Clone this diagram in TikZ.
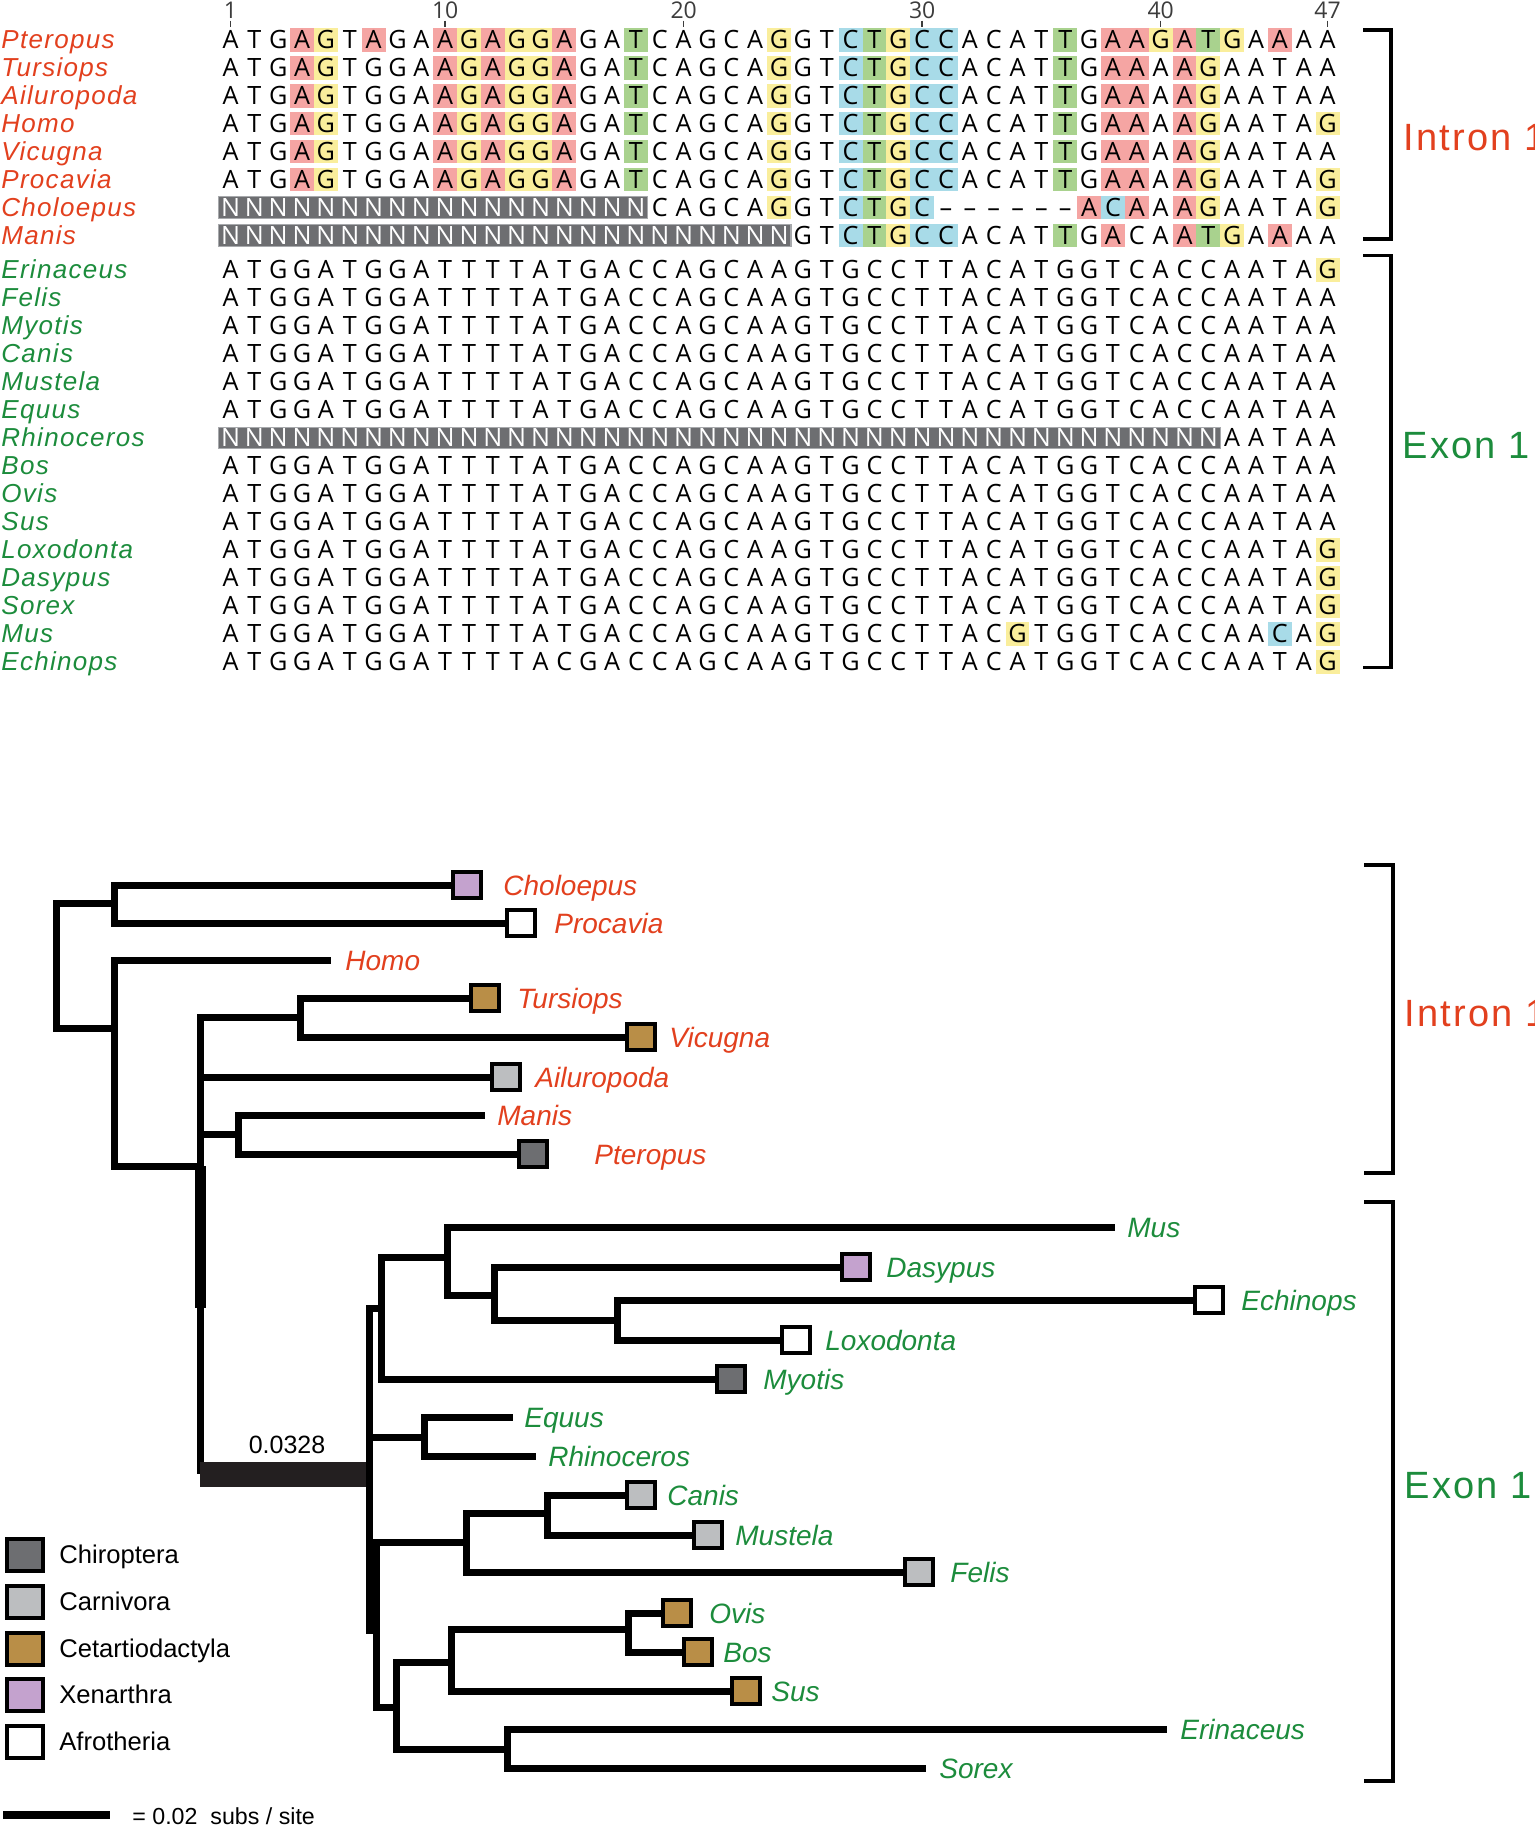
\documentclass[tikz,border=0pt]{standalone}
\usepackage{fontspec}
\setmainfont{Liberation Sans}
\newfontfamily\seqfont{Open Sans}
\newfontfamily\labfont[LetterSpace=5]{Liberation Sans}
\newfontfamily\partfont[LetterSpace=6]{Liberation Sans}

\definecolor{intronred}{HTML}{E2401E}
\definecolor{exongreen}{HTML}{1C8C3C}
\definecolor{hlP}{HTML}{F5A5A3}
\definecolor{hlY}{HTML}{FAEE9C}
\definecolor{hlG}{HTML}{A9D28E}
\definecolor{hlB}{HTML}{A8DBE8}
\definecolor{ngray}{HTML}{6D6E71}
\definecolor{nedge}{HTML}{A7A9AC}
\definecolor{chiro}{HTML}{6D6E71}
\definecolor{carni}{HTML}{BCBEC0}
\definecolor{cetart}{HTML}{B98E47}
\definecolor{xenar}{HTML}{C4A2CE}
\definecolor{afro}{HTML}{FFFFFF}
\definecolor{numgray}{HTML}{3C3C3C}
\definecolor{bandblack}{HTML}{231F20}

\newcount\alcol
\def\hlwalk#1{\ifx#1\relax\else
  \global\advance\alcol by 1
  \ifx#1.\else
    \fill[hl#1] ({194.725+23.85*\the\alcol},\aly-11.7) rectangle ({218.575+23.85*\the\alcol},\aly+11.7);
  \fi
  \expandafter\hlwalk\fi}
\def\chwalk#1{\ifx#1\relax\else
  \global\advance\alcol by 1
  \ifx N#1\def\chcol{white}\else\def\chcol{black}\fi
  \ifx -#1\def\chtxt{\textendash}\else\def\chtxt{#1}\fi
  \node[seqch,text=\chcol] (\alname-\the\alcol) at ({206.65+23.85*\the\alcol},\aly+8.8) {\chtxt};
  \expandafter\chwalk\fi}
\newcommand\alignrow[6]{%
  \def\aly{#1}\def\alname{#2}%
  \node[alabel,text=#3] (lab-#2) at (1,\aly+8.8) {#2};
  \ifnum#4>0 \draw[nblock] (218.575,\aly-10.8) rectangle ({218.575+23.85*#4},\aly+10.8);\fi
  \global\alcol=0 \expandafter\hlwalk#5\relax
  \global\alcol=0 \expandafter\chwalk#6\relax}

\def\exA{ATGGATGGAT TTTATGACCA GCAAGTGCCT TACATGGTCA CCAATAA}
\def\exG{ATGGATGGAT TTTATGACCA GCAAGTGCCT TACATGGTCA CCAATAG}
\def\lastG{.......... .......... .......... .......... ......Y}
\def\inA{ATGAGTGGAA GAGGAGATCA GCAGGTCTGC CACATTGAAA AGAATAA}
\def\inG{ATGAGTGGAA GAGGAGATCA GCAGGTCTGC CACATTGAAA AGAATAG}
\def\inAc{...PY....P YPYYP..G.. ...Y..BGYB B....G.PP. PY.....}
\def\inGc{...PY....P YPYYP..G.. ...Y..BGYB B....G.PP. PY....Y}

\begin{document}
\begin{tikzpicture}[x=0.5pt,y=-0.5pt,
  alabel/.style={anchor=base west,inner sep=0pt,font=\labfont\itshape\fontsize{13}{13}\selectfont},
  seqch/.style={anchor=base,inner sep=0pt,font=\seqfont\fontsize{12.6}{13}\selectfont},
  nblock/.style={fill=ngray,draw=nedge,line width=0.6pt},
  colnum/.style={anchor=base,inner sep=0pt,text=numgray,font=\seqfont\fontsize{11.5}{12}\selectfont},
  numtick/.style={draw=numgray,line width=0.8pt},
  bracket/.style={line width=1.8pt},
  partlab/.style={anchor=base west,inner sep=0pt,font=\partfont\fontsize{19}{19}\selectfont},
  branch/.style={line width=3.5pt},
  band/.style={line width=12.5pt,draw=bandblack},
  leafbox/.style={draw,line width=2pt,minimum width=14pt,minimum height=13pt,inner sep=0pt},
  tlabel/.style={anchor=base west,inner sep=0pt,yshift=-5pt,font=\itshape\fontsize{14}{14}\selectfont},
  legbox/.style={draw,line width=2pt,minimum width=18pt,minimum height=16pt,inner sep=0pt},
  leglab/.style={anchor=base west,inner sep=0pt,font=\fontsize{12.8}{13}\selectfont},
  numlab/.style={anchor=base,inner sep=0pt,font=\fontsize{12.5}{13}\selectfont},
  scalebar/.style={line width=4pt}]
\useasboundingbox (0,0) rectangle (1535,1826);

\foreach \c in {1,10,20,30,40,47}{
  \node[colnum] (num\c) at ({206.65+23.85*\c},18.3) {\c};
  \draw[numtick] ({206.65+23.85*\c},20.7) -- ({206.65+23.85*\c},26.5);
}

\alignrow{40}{Pteropus}{intronred}{0}{...PY.P..P YPYYP..G.. ...Y..BGYB B....G.PPY PGY.P..}{ATGAGTAGAA GAGGAGATCA GCAGGTCTGC CACATTGAAG ATGAAAA}
\alignrow{67.9}{Tursiops}{intronred}{0}{\inAc}{\inA}
\alignrow{95.8}{Ailuropoda}{intronred}{0}{\inAc}{\inA}
\alignrow{123.7}{Homo}{intronred}{0}{\inGc}{\inG}
\alignrow{151.6}{Vicugna}{intronred}{0}{\inAc}{\inA}
\alignrow{179.5}{Procavia}{intronred}{0}{\inGc}{\inG}
\alignrow{207.4}{Choloepus}{intronred}{18}{.......... .......... ...Y..BGYB ......PBP. PY....Y}{NNNNNNNNNN NNNNNNNNCA GCAGGTCTGC ------ACAA AGAATAG}
\alignrow{235.3}{Manis}{intronred}{24}{.......... .......... ......BGYB B....G.P.. PGY.P..}{NNNNNNNNNN NNNNNNNNNN NNNNGTCTGC CACATTGACA ATGAAAA}

\alignrow{270}{Erinaceus}{exongreen}{0}{\lastG}{\exG}
\alignrow{298}{Felis}{exongreen}{0}{}{\exA}
\alignrow{326}{Myotis}{exongreen}{0}{}{\exA}
\alignrow{354}{Canis}{exongreen}{0}{}{\exA}
\alignrow{382}{Mustela}{exongreen}{0}{}{\exA}
\alignrow{410}{Equus}{exongreen}{0}{}{\exA}
\alignrow{438}{Rhinoceros}{exongreen}{42}{}{NNNNNNNNNN NNNNNNNNNN NNNNNNNNNN NNNNNNNNNN NNAATAA}
\alignrow{466}{Bos}{exongreen}{0}{}{\exA}
\alignrow{494}{Ovis}{exongreen}{0}{}{\exA}
\alignrow{522}{Sus}{exongreen}{0}{}{\exA}
\alignrow{550}{Loxodonta}{exongreen}{0}{\lastG}{\exG}
\alignrow{578}{Dasypus}{exongreen}{0}{\lastG}{\exG}
\alignrow{606}{Sorex}{exongreen}{0}{\lastG}{\exG}
\alignrow{634}{Mus}{exongreen}{0}{.......... .......... .......... ...Y...... ....B.Y}{ATGGATGGAT TTTATGACCA GCAAGTGCCT TACGTGGTCA CCAACAG}
\alignrow{662}{Echinops}{exongreen}{0}{\lastG}{ATGGATGGAT TTTACGACCA GCAAGTGCCT TACATGGTCA CCAATAG}

\draw[bracket] (1363,30) -- (1391,30) -- (1391,239) -- (1363,239);
\draw[bracket] (1363,255.5) -- (1391,255.5) -- (1391,667.5) -- (1363,667.5);
\node[partlab,text=intronred] (intronA) at (1403,150.6) {Intron 1};
\node[partlab,text=exongreen] (exonA) at (1402,458.6) {Exon 1};

\coordinate (root) at (56,965);
\coordinate (nChPr) at (114,903);
\coordinate (nHomo) at (114,1028);
\coordinate (nBor) at (200,1166);
\coordinate (nTuVi) at (300,1017);
\coordinate (nMaPt) at (238,1134);
\coordinate (nEx) at (369,1474);
\coordinate (nMusMy) at (381,1308);
\coordinate (nMusDa) at (447,1257);
\coordinate (nDaEc) at (494,1295);
\coordinate (nEcLo) at (617,1320);
\coordinate (nEqRh) at (424,1437);
\coordinate (nLow) at (376,1630);
\coordinate (nCar) at (466,1542);
\coordinate (nCaMu) at (547,1513);
\coordinate (nLau) at (396,1707);
\coordinate (nCet) at (451,1662);
\coordinate (nOvBo) at (628,1629);
\coordinate (nErSo) at (507,1749);

\coordinate (homo) at (331,960);
\coordinate (manis) at (485,1115);
\coordinate (mus) at (1115,1227);
\coordinate (equus) at (513,1417);
\coordinate (rhinoceros) at (536,1456);
\coordinate (erinaceus) at (1167,1729);
\coordinate (sorex) at (926,1768);

\node[leafbox,fill=xenar] (choloepus) at (467,885) {};
\node[leafbox,fill=afro] (procavia) at (521,923) {};
\node[leafbox,fill=cetart] (tursiops) at (485,998) {};
\node[leafbox,fill=cetart] (vicugna) at (641,1037) {};
\node[leafbox,fill=carni] (ailuropoda) at (506,1077) {};
\node[leafbox,fill=chiro] (pteropus) at (533,1154) {};
\node[leafbox,fill=xenar] (dasypus) at (856,1267) {};
\node[leafbox,fill=afro] (echinops) at (1209,1300) {};
\node[leafbox,fill=afro] (loxodonta) at (796,1340) {};
\node[leafbox,fill=chiro] (myotis) at (731,1379) {};
\node[leafbox,fill=carni] (canis) at (641,1495) {};
\node[leafbox,fill=carni] (mustela) at (708,1535) {};
\node[leafbox,fill=carni] (felis) at (919,1572) {};
\node[leafbox,fill=cetart] (ovis) at (677,1613) {};
\node[leafbox,fill=cetart] (bos) at (698,1652) {};
\node[leafbox,fill=cetart] (sus) at (746,1691) {};

\draw[branch] (root) |- (nChPr);
\draw[branch] (root) |- (nHomo);
\draw[branch] (nChPr) |- (choloepus.west);
\draw[branch] (nChPr) |- (procavia.west);
\draw[branch] (nHomo) |- (homo);
\draw[branch] (nHomo) |- (nBor);
\draw[branch] (nBor) |- (nTuVi);
\draw[branch] (nBor) |- (ailuropoda.west);
\draw[branch] (nBor) |- (nMaPt);
\draw[branch] (nBor) -- (nBor |- nEx);
\draw[branch,line width=5.5pt] (nBor) -- (nBor |- nMusMy);
\draw[branch] (nTuVi) |- (tursiops.west);
\draw[branch] (nTuVi) |- (vicugna.west);
\draw[branch] (nMaPt) |- (manis);
\draw[branch] (nMaPt) |- (pteropus.west);
\draw[band] (nBor |- nEx) -- (nEx);
\draw[branch] (nEx) |- (nMusMy);
\draw[branch] (nEx) |- (nEqRh);
\draw[branch] (nEx) |- (nLow);
\draw[branch] (nMusMy) |- (nMusDa);
\draw[branch] (nMusMy) |- (myotis.west);
\draw[branch] (nMusDa) |- (mus);
\draw[branch] (nMusDa) |- (nDaEc);
\draw[branch] (nDaEc) |- (dasypus.west);
\draw[branch] (nDaEc) |- (nEcLo);
\draw[branch] (nEcLo) |- (echinops.west);
\draw[branch] (nEcLo) |- (loxodonta.west);
\draw[branch] (nEqRh) |- (equus);
\draw[branch] (nEqRh) |- (rhinoceros);
\draw[branch] (nLow) |- (nCar);
\draw[branch] (nLow) |- (nLau);
\draw[branch] (nCar) |- (nCaMu);
\draw[branch] (nCar) |- (felis.west);
\draw[branch] (nCaMu) |- (canis.west);
\draw[branch] (nCaMu) |- (mustela.west);
\draw[branch] (nLau) |- (nCet);
\draw[branch] (nLau) |- (nErSo);
\draw[branch] (nCet) |- (nOvBo);
\draw[branch] (nCet) |- (sus.west);
\draw[branch] (nOvBo) |- (ovis.west);
\draw[branch] (nOvBo) |- (bos.west);
\draw[branch] (nErSo) |- (erinaceus);
\draw[branch] (nErSo) |- (sorex);

\node[tlabel,text=intronred] (choloepusL) at (503,885) {Choloepus};
\node[tlabel,text=intronred] (procaviaL) at (554,923) {Procavia};
\node[tlabel,text=intronred] (homoL) at (345,960) {Homo};
\node[tlabel,text=intronred] (tursiopsL) at (517,998) {Tursiops};
\node[tlabel,text=intronred] (vicugnaL) at (669,1037) {Vicugna};
\node[tlabel,text=intronred] (ailuropodaL) at (535,1077) {Ailuropoda};
\node[tlabel,text=intronred] (manisL) at (497,1115) {Manis};
\node[tlabel,text=intronred] (pteropusL) at (594,1154) {Pteropus};
\node[tlabel,text=exongreen] (musL) at (1127,1227) {Mus};
\node[tlabel,text=exongreen] (dasypusL) at (886,1267) {Dasypus};
\node[tlabel,text=exongreen] (echinopsL) at (1241,1300) {Echinops};
\node[tlabel,text=exongreen] (loxodontaL) at (825,1340) {Loxodonta};
\node[tlabel,text=exongreen] (myotisL) at (763,1379) {Myotis};
\node[tlabel,text=exongreen] (equusL) at (524,1417) {Equus};
\node[tlabel,text=exongreen] (rhinocerosL) at (548,1456) {Rhinoceros};
\node[tlabel,text=exongreen] (canisL) at (667,1495) {Canis};
\node[tlabel,text=exongreen] (mustelaL) at (735,1535) {Mustela};
\node[tlabel,text=exongreen] (felisL) at (950,1572) {Felis};
\node[tlabel,text=exongreen] (ovisL) at (709,1613) {Ovis};
\node[tlabel,text=exongreen] (bosL) at (723,1652) {Bos};
\node[tlabel,text=exongreen] (susL) at (771,1691) {Sus};
\node[tlabel,text=exongreen] (erinaceusL) at (1180,1729) {Erinaceus};
\node[tlabel,text=exongreen] (sorexL) at (939,1768) {Sorex};

\node[numlab] (bandL) at (287,1453) {0.0328};

\draw[bracket] (1364,865) -- (1393,865) -- (1393,1173) -- (1364,1173);
\draw[bracket] (1364,1202) -- (1393,1202) -- (1393,1781) -- (1364,1781);
\node[partlab,text=intronred] (intronB) at (1404,1026.6) {Intron 1};
\node[partlab,text=exongreen] (exonB) at (1404,1498.6) {Exon 1};

\foreach \nm/\col [count=\i] in {Chiroptera/chiro,Carnivora/carni,Cetartiodactyla/cetart,Xenarthra/xenar,Afrotheria/afro}{
  \node[legbox,fill=\col] (leg\i) at (25,{1555+46.75*(\i-1)}) {};
  \node[leglab] (legL\i) at (59,{1563.5+46.75*(\i-1)}) {\nm};
}

\coordinate (sbL) at (3,1815);
\coordinate (sbR) at (110,1815);
\draw[scalebar] (sbL) -- (sbR);
\node[leglab,font=\fontsize{11.6}{12}\selectfont] (sbT) at (132,1824) {= 0.02\ \ subs / site};
\end{tikzpicture}
\end{document}
